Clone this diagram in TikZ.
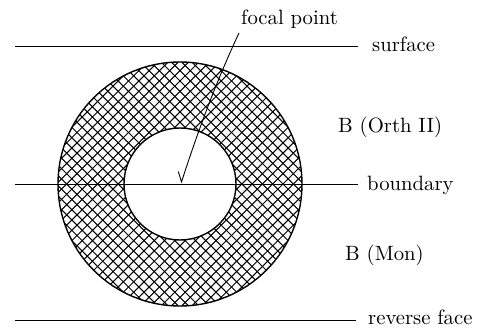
\documentclass[tikz,border=0pt]{standalone}
\usepackage{fontspec}
\setmainfont{lmroman10-regular.otf}
\usetikzlibrary{calc}
\begin{document}
\begin{tikzpicture}[x=1pt,y=-1pt,
  lbl/.style={anchor=base west,inner sep=0pt,font=\fontsize{20.7}{24}\selectfont},
  layer/.style={line width=0.9pt},
  ring/.style={line width=1.4pt},
  hatch/.style={line width=1pt}]
\useasboundingbox (0,0) rectangle (480,329);
\coordinate (c) at (180,184);
% hatching in the ring
\begin{scope}
  \clip (c) circle (122);
  \foreach \k in {-26,...,26} {
    \draw[hatch] ($(c)+(\k*10.3-130,-130)$) -- ($(c)+(\k*10.3+130,130)$);
    \draw[hatch] ($(c)+(\k*10.3+130,-130)$) -- ($(c)+(\k*10.3-130,130)$);
  }
\end{scope}
\fill[white] (c) circle (56);
\draw[ring] (c) circle (122);
\draw[ring] (c) circle (56);
% labels
\node[lbl] (surf) at (372,52) {surface};
\node[lbl] (orth) at (338,133) {B (Orth II)};
\node[lbl] (bnd) at (367,190) {boundary};
\node[lbl] (mon) at (345,260) {B (Mon)};
\node[lbl] (rev) at (368,324) {reverse face};
\node[lbl] (foc) at (241,25) {focal point};
% layer lines
\coordinate (s0) at (15,46);   \coordinate (s1) at (358,46);
\coordinate (b0) at (15,184);  \coordinate (b1) at (358,184);
\coordinate (r0) at (15,320);  \coordinate (r1) at (356,320);
\draw[layer] (s0) -- (s1);
\draw[layer] (b0) -- (b1);
\draw[layer] (r0) -- (r1);
% focal point arrow
\coordinate (fa) at (239,33);
\coordinate (tip) at (181.5,182);
\coordinate (arm) at (178.3,171.5);
\draw[layer] (fa) .. controls (216,82) and (198,131) .. (tip) -- (arm);
\end{tikzpicture}
\end{document}
